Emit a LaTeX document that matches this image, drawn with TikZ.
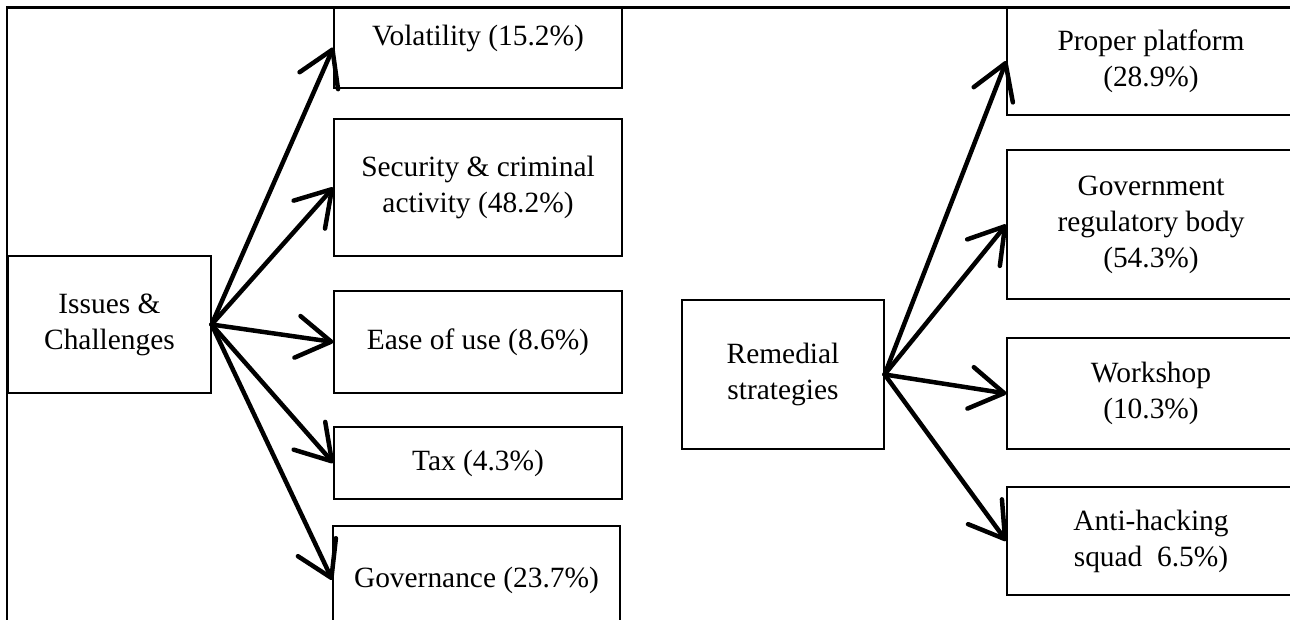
\documentclass[tikz,border=0pt]{standalone}
\usepackage{fontspec}
\setmainfont{Liberation Serif}
\usetikzlibrary{arrows.meta}
\begin{document}
\begin{tikzpicture}[x=1pt,y=-1pt,
  box/.style={draw, line width=1.2pt, rectangle, inner sep=0pt, align=center,
    font=\fontsize{29.4}{36}\selectfont},
  conn/.style={line width=4.5pt, line cap=round,
    -{Straight Barb[length=34pt,width=42pt,round]}},
  frameline/.style={line width=2.5pt}]
\useasboundingbox (0,0) rectangle (1290,620);
\clip (0,0) rectangle (1290,620);
% left group
\node[box, minimum width=203pt, minimum height=137pt] (iss) at (109.5,324.5) {Issues \&\\Challenges};
\node[box, minimum width=288pt, minimum height=81pt, text height=21pt, text depth=24pt] (vol) at (478,47.5) {Volatility (15.2\%)};
\node[box, minimum width=288pt, minimum height=137pt] (sec) at (478,187.5) {Security \& criminal\\activity (48.2\%)};
\node[box, minimum width=288pt, minimum height=102pt] (ease) at (478,342) {Ease of use (8.6\%)};
\node[box, minimum width=288pt, minimum height=72pt] (tax) at (478,463) {Tax (4.3\%)};
\node[box, minimum width=287pt, minimum height=108pt] (gov) at (476.5,580) {Governance (23.7\%)};
% right group
\node[box, minimum width=202pt, minimum height=149pt] (rem) at (783,374.5) {Remedial\\strategies};
\node[box, minimum width=288pt, minimum height=108pt] (pp) at (1151,61) {Proper platform\\(28.9\%)};
\node[box, minimum width=288pt, minimum height=149pt] (grb) at (1151,224.5) {Government\\regulatory body\\(54.3\%)};
\node[box, minimum width=288pt, minimum height=111pt] (ws) at (1151,393.5) {Workshop\\(10.3\%)};
\node[box, minimum width=288pt, minimum height=108pt] (ah) at (1151,541) {Anti-hacking\\squad\ \ 6.5\%)};
% connectors
\foreach \t in {vol,sec,ease,tax,gov} \draw[conn] (iss.east) -- (\t.west);
\foreach \t in {pp,grb,ws,ah} \draw[conn] (rem.east) -- (\t.west);
% frame
\coordinate (fbl) at (7,620);
\coordinate (ftl) at (7,7.5);
\coordinate (ftr) at (1290,7.5);
\draw[frameline] (fbl) -- (ftl) -- (ftr);
\end{tikzpicture}
\end{document}
